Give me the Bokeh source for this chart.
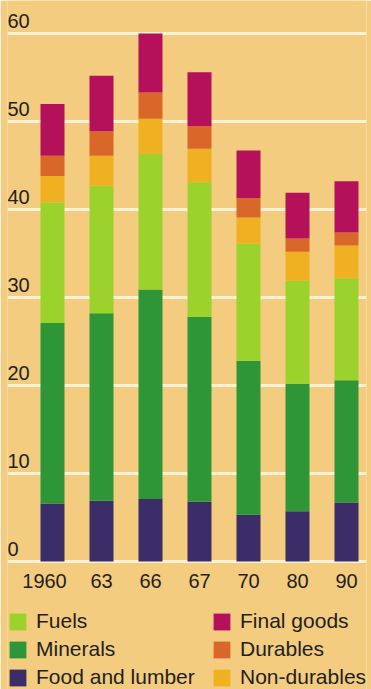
from bokeh.plotting import figure
from bokeh.models import ColumnDataSource, Range1d, Grid, FixedTicker, Legend, LegendItem
from bokeh.core.properties import value
from bokeh.embed import file_html
from bokeh.resources import INLINE

# ---- data ----
years = ["1960", "63", "66", "67", "70", "80", "90"]
food_lumber = [6.6, 6.9, 7.1, 6.8, 5.3, 5.7, 6.7]
minerals = [20.5, 21.3, 23.8, 21.0, 17.5, 14.5, 13.9]
fuels = [13.7, 14.5, 15.4, 15.3, 13.3, 11.7, 11.6]
non_durables = [3.0, 3.4, 4.0, 3.8, 3.0, 3.3, 3.7]
durables = [2.3, 2.8, 3.0, 2.6, 2.2, 1.5, 1.5]
final_goods = [5.9, 6.3, 6.7, 6.1, 5.4, 5.2, 5.8]
y_ticks = [0, 10, 20, 30, 40, 50, 60]

# ---- styling ----
BG = "#f3cc7f"
GRID = "#fcf1d2"
TXT = "#231f20"
FONT = "Liberation Sans"
colors = {
    "food": "#3b2d68",
    "minerals": "#2f9638",
    "fuels": "#9bd32c",
    "nondur": "#efb021",
    "dur": "#d9672a",
    "final": "#b5105a",
}

xs = list(range(len(years)))
src = ColumnDataSource(dict(
    x=xs, food=food_lumber, minerals=minerals, fuels=fuels,
    nondur=non_durables, dur=durables, final=final_goods,
))

W, H = 371, 689
left_px, right_px = 7, 366
bar_c0, bar_step = 52, 49
x_start = (left_px - bar_c0) / bar_step
x_end = x_start + (right_px - left_px) / bar_step
px_per_unit = 8.8
zero_px = 561
y_start = -(H - zero_px) / px_per_unit
y_end = zero_px / px_per_unit

p = figure(width=W, height=H, output_backend="svg", toolbar_location=None,
           x_range=Range1d(x_start, x_end), y_range=Range1d(y_start, y_end),
           x_axis_type=None, y_axis_type=None,
           min_border_left=left_px, min_border_right=W - right_px,
           min_border_top=0, min_border_bottom=0)
p.background_fill_color = BG
p.border_fill_color = BG
p.outline_line_color = None
p.grid.visible = False

p.add_layout(Grid(dimension=1, ticker=FixedTicker(ticks=y_ticks),
                  grid_line_color=GRID, grid_line_width=3))

stack_keys = ["food", "minerals", "fuels", "nondur", "dur", "final"]
rends = p.vbar_stack(stack_keys, x="x", width=0.49, source=src,
                     color=[colors[k] for k in stack_keys], line_color=None)
r = dict(zip(stack_keys, rends))

# y tick labels (above grid lines, left aligned)
p.text(x=[x_start] * len(y_ticks), y=y_ticks, text=[str(t) for t in y_ticks],
       text_align="left", text_baseline="alphabetic", y_offset=-13, x_offset=0,
       text_font=value(FONT), text_font_size="20px", text_color=TXT)

# category labels under the bars
label_dx = [-8] + [0] * (len(years) - 1)
p.text(x=xs, y=[0] * len(xs), text=years, x_offset=label_dx,
       text_align="center", text_baseline="alphabetic", y_offset=19,
       text_font=value(FONT), text_font_size="20px", text_color=TXT)

items = [
    LegendItem(label="Fuels", renderers=[r["fuels"]]),
    LegendItem(label="Minerals", renderers=[r["minerals"]]),
    LegendItem(label="Food and lumber", renderers=[r["food"]]),
    LegendItem(label="Final goods", renderers=[r["final"]]),
    LegendItem(label="Durables", renderers=[r["dur"]]),
    LegendItem(label="Non-durables", renderers=[r["nondur"]]),
]
legend = Legend(items=items, ncols=2, location=(0, 0),
                padding=0, margin=0, spacing=4,
                glyph_width=21, glyph_height=21, label_height=21,
                label_standoff=8, label_width=171,
                label_text_font=FONT, label_text_font_size="21px",
                label_text_color=TXT, label_text_baseline="middle",
                background_fill_alpha=0, border_line_color=None)
p.add_layout(legend)

open("out.html", "w").write(file_html(p, INLINE))
